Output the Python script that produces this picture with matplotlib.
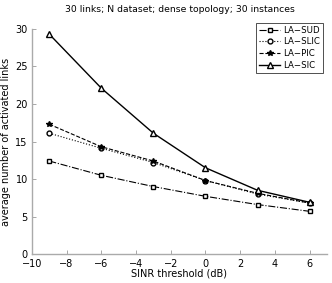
import matplotlib
matplotlib.use('Agg')
import matplotlib.pyplot as plt

# SINR threshold (dB)
sinr = [-9, -6, -3, 0, 3, 6]
la_sud = [12.4, 10.5, 9.0, 7.7, 6.6, 5.7]
la_slic = [16.1, 14.1, 12.2, 9.8, 8.0, 6.8]
la_pic = [17.3, 14.3, 12.4, 9.8, 8.1, 6.8]
la_sic = [29.3, 22.1, 16.1, 11.5, 8.5, 6.9]

plt.rcParams['font.family'] = 'DejaVu Sans'
fig = plt.figure(figsize=(3.32, 2.83), dpi=100)
ax = fig.add_axes([0.096, 0.102, 0.889, 0.796])

ax.plot(sinr, la_sud, color='black', linestyle='-.', linewidth=0.8, marker='s',
        markersize=3.5, markerfacecolor='white', label='LA\u2212SUD')
ax.plot(sinr, la_slic, color='black', linestyle=':', linewidth=0.8, marker='o',
        markersize=3.5, markerfacecolor='white', label='LA\u2212SLIC')
ax.plot(sinr, la_pic, color='black', linestyle='--', linewidth=0.8, marker='*',
        markersize=4, label='LA\u2212PIC')
ax.plot(sinr, la_sic, color='black', linestyle='-', linewidth=1.0, marker='^',
        markersize=4.5, markerfacecolor='white', label='LA\u2212SIC')

ax.set_xlim(-10, 7)
ax.set_ylim(0, 30)
ax.set_xticks(range(-10, 7, 2))
ax.set_yticks(range(0, 31, 5))
ax.set_xticklabels(['\u221210', '\u22128', '\u22126', '\u22124', '\u22122', '0', '2', '4', '6'])
ax.tick_params(direction='in', length=3, width=0.6, color='#999999', labelsize=7)
ax.tick_params(axis='x', pad=3.5)
ax.tick_params(axis='y', pad=3)
for s in ['top', 'right']:
    ax.spines[s].set_visible(False)
for s in ['left', 'bottom']:
    ax.spines[s].set_color('#aaaaaa')
    ax.spines[s].set_linewidth(1.0)

ax.set_xlabel('SINR threshold (dB)', fontsize=7, labelpad=0)
ax.set_ylabel('average number of activated links', fontsize=7, labelpad=3)
ax.set_title('30 links; N dataset; dense topology; 30 instances', fontsize=6.7, pad=12)

leg = ax.legend(loc='upper right', bbox_to_anchor=(0.985, 1.027), fontsize=6.2, frameon=True,
                fancybox=False, edgecolor='black', handlelength=2.4, borderpad=0.35,
                labelspacing=0.3, handletextpad=0.3, borderaxespad=0.0)
leg.get_frame().set_linewidth(0.6)

fig.savefig('out.png', dpi=100)
